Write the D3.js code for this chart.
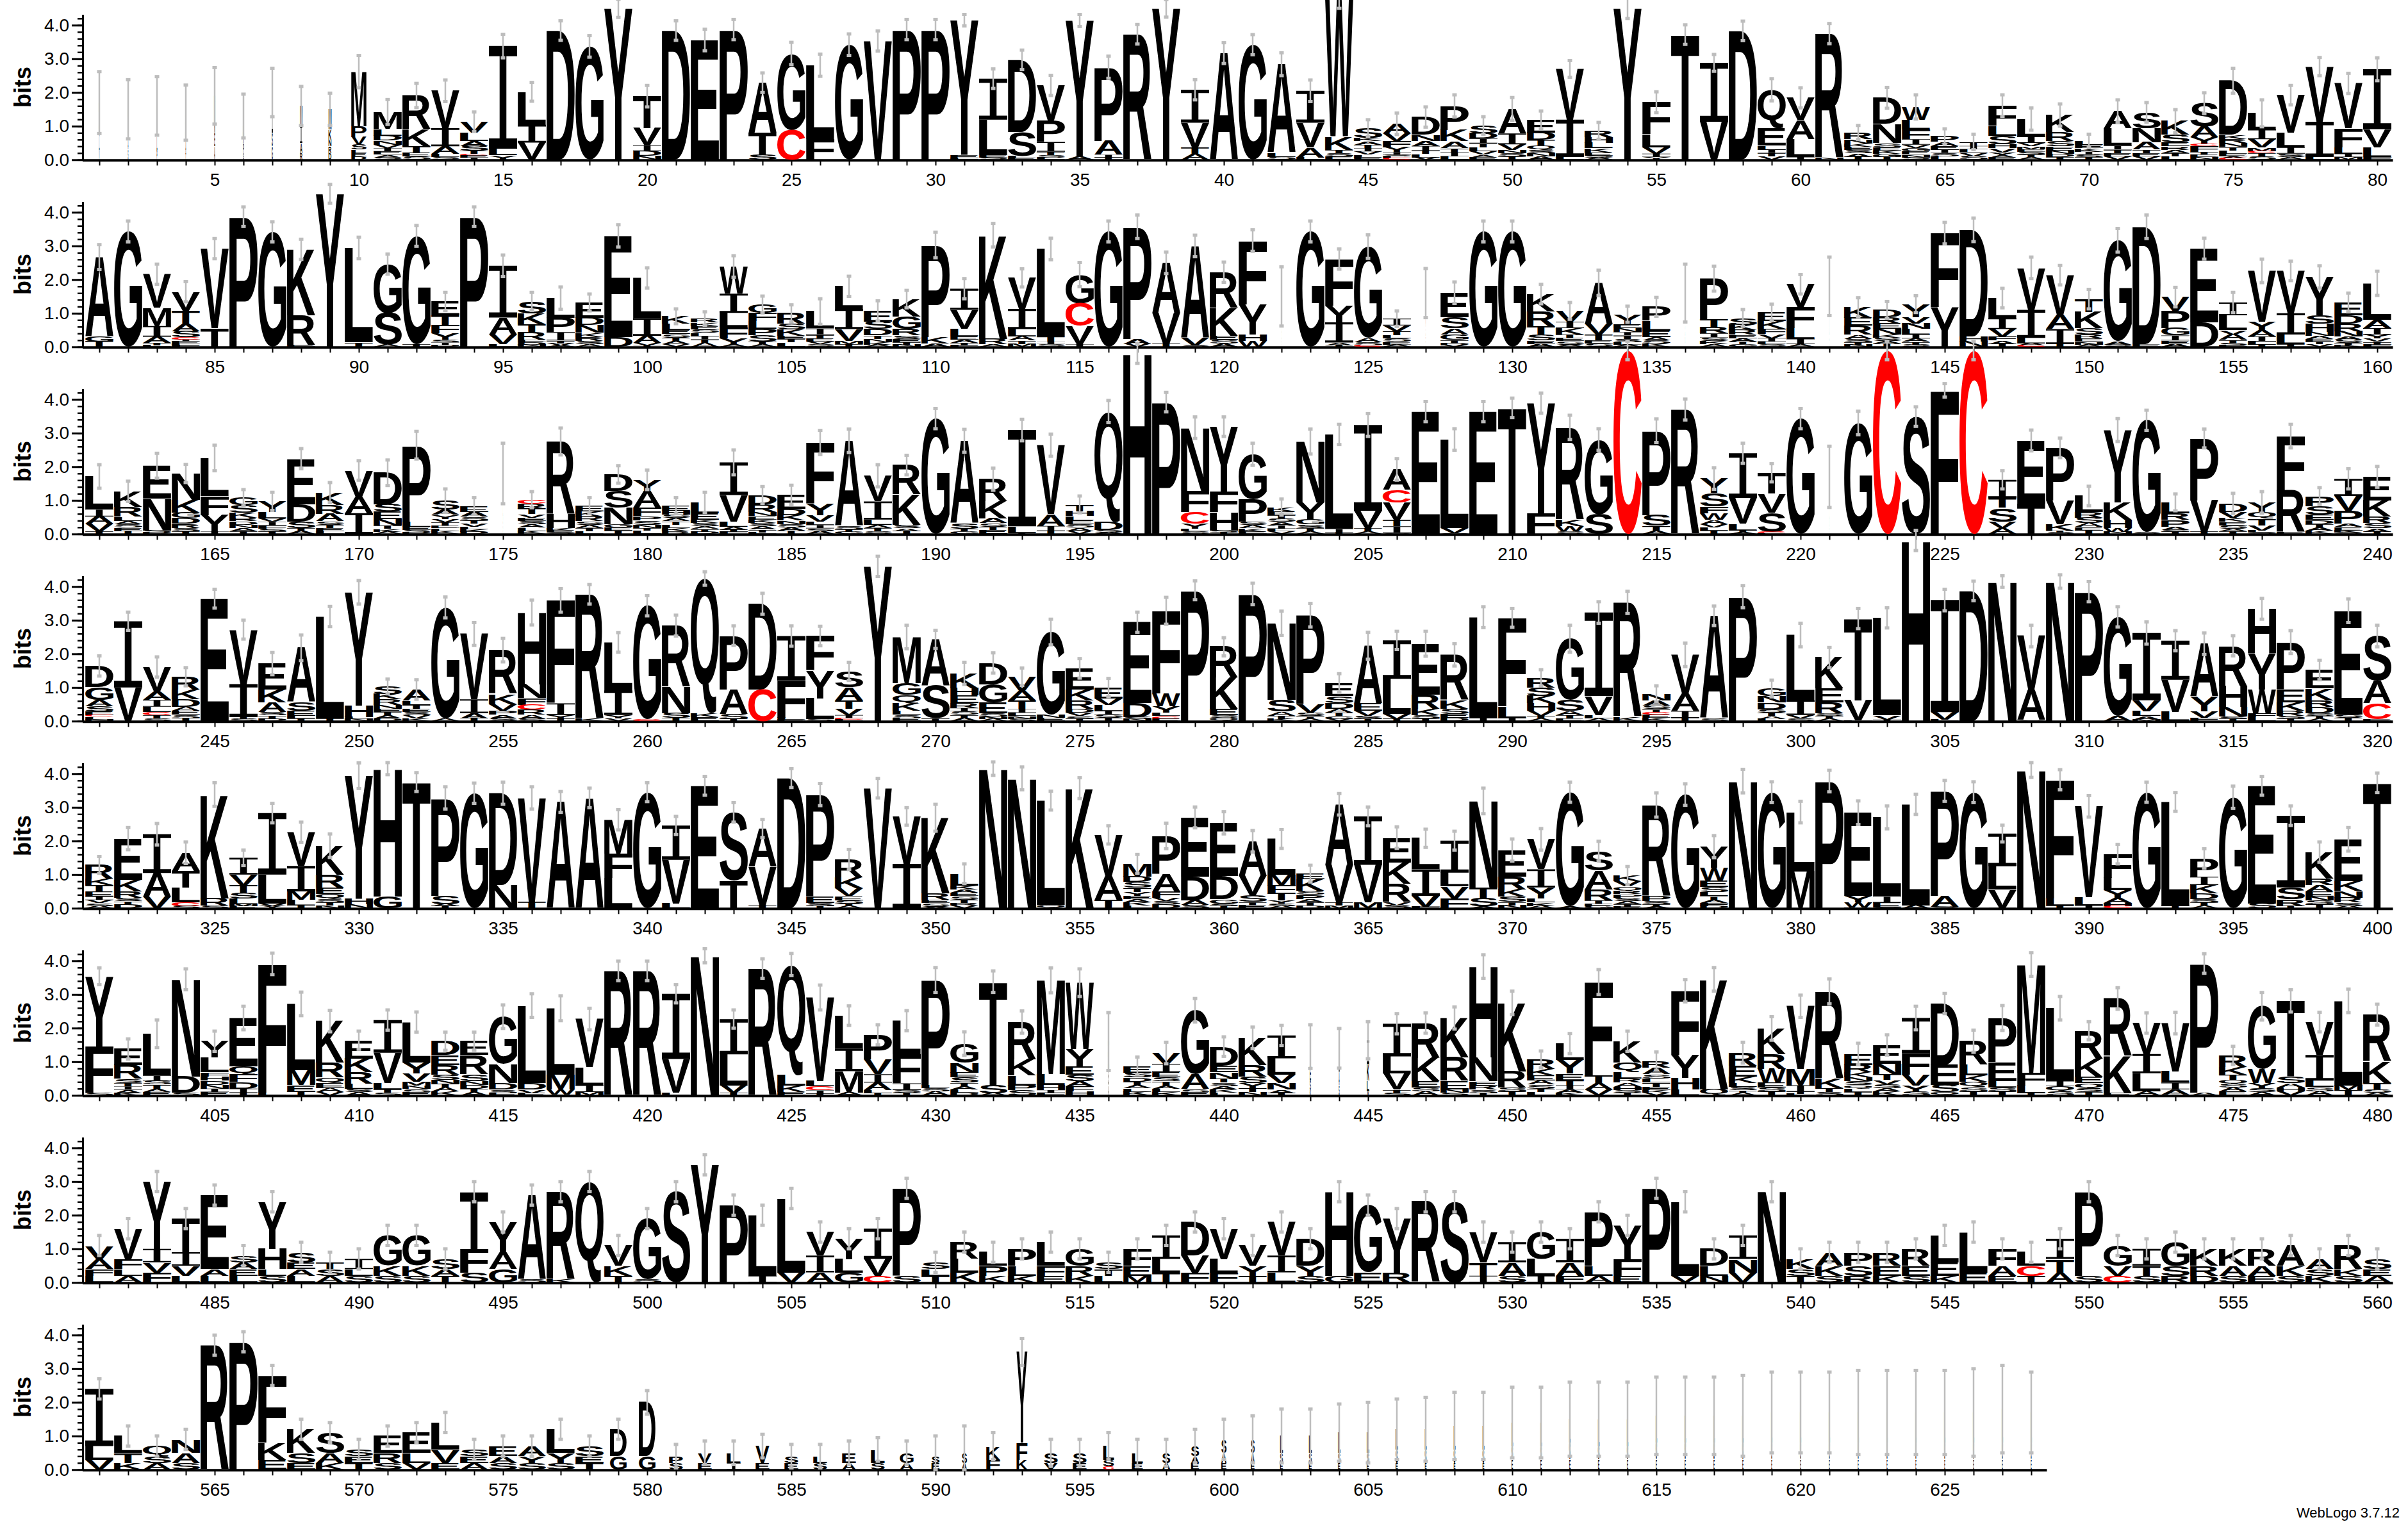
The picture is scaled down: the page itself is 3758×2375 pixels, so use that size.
<!DOCTYPE html>
<html>
<head>
<meta charset="utf-8">
<script src="https://cdn.jsdelivr.net/npm/d3@7"></script>
<style>
  body { margin: 0; background: #fff; }
  text { font-family: "Liberation Sans", Arial, sans-serif; }
</style>
</head>
<body>
<svg id="chart" width="3758" height="2375"></svg>
<script>
// one string per position: "@width" (fraction of column, optional), letters top->bottom with heights in bits, "|" error bar half-length
var row1 = [
 "@.04M1.0L.4V.3|.92","@.04M.9A.3S.3|.88","@.04M.9L.4P.3|.87","@.04S.8A.4T.2|.82","@.05M1.1E.4A.4|.84",
 "@.05A.8P.3S.2|.65","@.06I1.2S.4G.4|.72","@.1M.6I.5A.3R.2|.58","@.12M.6K.3N.2R.2D.2|.48","@.55M1.62P.32V.23S.15L.1E.1D.1|.48",
 "M.5L.2D.15N.12V.1I.1E.1A.08S.07|.37","R1.0K.5T.19E.12S.1|.36","V1.11I.54A.22L.1S.08|.32","V.32L.25A.15S.14T.1C.05E.06I.06|.29","I3.05L.2Y.13|.35",
 "L.98I.53V.51|.28","D3.84|.29","G3.37|.32","Y4.5|.27","T.95V.5I.18D.14N.12|.32",
 "D3.84|.29","E3.56|.32","P3.87|.3","A1.5T.65S.14|.29","G2.27C.89|.33",
 "L2.19F.62|.33","G3.42|.32","V3.53|.3","P3.87|.3","P3.87|.3",
 "Y4.0E.1L.05|.17","I1.22L1.05E.08S.06|.29","D2.15S.71L.06E.05|.29","V1.05P.63I.29T.1S.08L.06|.3","Y4.05A.09|.18",
 "P2.19A.41I.08T.07|.33","R3.73|.29","Y4.5|.26","I.98V.73T.2A.17|.3","A3.17|.31",
 "G3.42|.3","A2.63L.12S.09|.34","I.95V.73A.3L.07|.32","W4.1K.4T.1S.1E.1|.3","S.29K.1A.1T.1I.1V.1L.08E.07|.25",
 "A.29V.22F.19Y.14I.08S.05L.06C.04|.32","D.53N.18A.15I.14T.1L.1V.07|.3","P.72K.33A.2T.13I.12L.1|.33","S.23D.16I.14T.12L.12V.1A.08E.07|.26","A.73I.32V.16N.1S.1T.1|.34",
 "E.39D.21T.16Q.13S.1N.1A.1|.26","V1.51I1.11L.08|.25","R.19H.16L.16K.13E.1S.06A.06|.25","Y4.5|.3","F.95L.39V.19I.1Y.08|.31",
 "T3.72|.29","I1.75V1.13|.25","D3.83|.29","Q1.14E.51L.13I.1T.1V.1|.33","V.65A.57L.54I.08|.3",
 "R3.7N.05|.3","R.19N.13K.1E.1S.1A.1T.09|.21","D.77N.57S.13E.1K.09G.09T.09|.31","W.38L.29F.29I.16V.1G.1E.1N.08S.07|.36","P.16A.12E.11I.1S.1L.1|.23",
 "T.12I.1L.1V.1S.11|.23","F.6L.3S.25H.12V.12Y.1A.06E.06|.32","L.52I.19V.1M.08E.08S.08T.08A.08|.33","K.51R.27S.15E.12N.1D.1T.08|.33","L.12E.1K.1I.08S.08T.08|.2",
 "A.52L.51I.12T.1E.1V.1|.33","S.48N.41A.22T.1E.1V.1|.29","K.41S.22E.12R.1A.1T.1L.1|.34","S.69A.32Y.19C.08F.16T.08E.08N.08|.31","D1.6K.13R.12N.12T.1L.1E.08A.05C.05|.37",
 "L.48I.29V.25M.1C.06T.1S.1|.4","V1.11L.44I.19S.1A.08|.29","V1.64I1.05L.08|.27","V1.33F.57L.19I.1M.08|.3","I1.78V.54L.29F.08|.34"
];
var row2 = [
 "A2.35G.16T.16|.37","G3.43|.31","V1.0M.54I.32A.19T.06L.05|.3","V.57T.38A.22S.19C.06I.06E.06L.05F.05|.3","V2.37T.55|.3",
 "P3.87|.29","G3.42|.3","K1.96R.89E.05|.3","Y4.55|.28","L2.81T.13|.32",
 "G1.46S.94A.06|.3","G3.22T.08|.31","E.41T.29F.25Y.19S.08I.08D.05|.27","P3.87|.29","I1.54A.5V.29L.08|.32",
 "S.35K.32T.25R.22E.08D.07N.06|.27","L.58P.43I.25T.08V.06A.05|.33","E.46D.21N.22K.13R.13S.09A.08|.25","E3.0D.3|.33","L1.19I.53A.22V.06T.05|.3",
 "K.22L.19E.12S.1T.1A.1V.08|.22","R.12K.1E.1S.1L.1I.1T.1A.12|.2","W.81I.57L.44F.32Y.19A.06|.32","G.25F.25L.22P.19S.19T.08A.08|.25","R.32S.16K.19E.1T.1L.13|.25",
 "L.5I.19T.1E.1V.08S.08|.38","L.67I.6V.35M.1T.08|.3","E.32S.22D.19T.1N.1K.08A.06|.3","K.51G.38R.19S.1E.1T.08N.06|.26","P2.73K.2A.1|.38",
 "I.63V.57L.22E.1A.1T.06F.05|.3","K3.08R.16A.08|.35","V.92I.6L.22A.12T.1M.09|.27","L2.6T.15I.08S.08|.32","G.86C.67V.54I.08|.36",
 "G3.43|.31","P3.33A.15V.09|.35","A1.49V.92T.09|.32","A2.73V.22S.05|.32","R1.06K.83E.12S.11A.1|.3",
 "F1.9Y.89H.2W.17|.32","@.02L.8A.4S.3|.88","G3.43|.31","F1.4Y.48I.6A.08T.05|.3","G2.71A.13S.1C.04|.35",
 "I.2V.17T.12L.1S.1E.08A.07|.23","@.02L.9S.4E.3|.73","E.73S.33A.18G.16T.1D.06V.05|.32","G3.43|.31","G3.43|.31",
 "K.51R.44T.25S.18E.1A.09|.29","V.32I.19K.19T.1E.1S.1A.07|.25","A1.22V.32T.16E.1S.1|.38","Y.29E.12N.12I.1T.1S.1L.08A.06|.24","P.41L.29E.19A.1S.1K.1|.28",
 "@.02A.8S.5P.3|.86","P1.22T.22R.19I.12S.1K.1A.08|.37","S.2K.16R.14E.1A.1T.08G.08|.25","E.27K.23F.15V.12I.1L.08S.08|.24","V.67F.63L.32I.16A.08|.29",
 "@.02R.9K.5E.4|.87","K.32E.23R.27A.12S.1T.08N.06|.28","D.22R.19E.16N.16K.1S.1A.07T.1|.25","Y.38V.2N.16L.16I.12A.1T.08S.07|.25","F2.2Y1.18|.32",
 "D3.17H.15N.16|.35","L.6I.32V.22F.12A.1T.09|.29","V1.25I.83L.16A.06C.05|.32","V1.19A.41I.44T.09|.29","T.38K.48S.19R.12E.1N.08A.07|.29",
 "G3.0A.1S.07|.35","D3.49E.08|.35","V.41P.51G.22I.15E.1A.09|.29","E2.19D.73|.31","I.38L.44V.13A.16T.1S.06E.05|.3",
 "V1.51Y.25A.19I.15L.1T.06|.35","V1.26I.63L.29T.08|.29","Y1.14S.25H.24N.12A.1E.08T.07V.08|.33","E.38D.25R.22N.16A.1S.1T.06K.05|.28","L1.08A.25I.19Y.12V.1T.08F.07|.36"
];
var row3 = [
 "L.97I.22A.22V.22T.08|.35","K.46R.29L.13A.1S.1E.1T.09|.3","E.98N.94S.06D.05|.37","N.78K.38G.17D.16R.13S.1T.08|.27","L1.13F.57Y.48I.08|.38",
 "G.22S.23K.15R.1D.1N.1A.1T.08|.24","Y.32L.19V.1I.1F.1S.08T.08|.27","E1.35D.52S.19T.08A.1|.3","K.36R.27A.22S.1T.1E.1L.08|.3","V.79A.48I.62|.29",
 "D.94S.22E.22N.19T.1K.08A.07|.38","P2.27L.15E.1S.07D.05|.41","S.27A.15Y.12V.1T.1E.08L.08K.09|.35","E.17A.15S.1T.1V.1L.08K.07D.06|.25","@.02L.9A.5S.4|.9",
 "C.13R.14T.16V.1E.1S.1A.1L.1K.09|.24","R2.16H.41K.08E.06S.04|.4","E.17K.15R.14S.1A.1T.1L.08|.24","D.48S.51N.48G.1E.1T.1|.26","Y.35A.48F.25P.13S.12N.1T.08L.1|.29",
 "E.14H.12S.1A.1T.1L.1K.1R.08|.24","L.32E.19K.1S.1A.08T.08D.07|.3","I.97V.79L.15A.1T.06F.06|.37","D.27R.23N.13E.1K.1S.1A.1T.08L.05|.25","E.41D.19K.16N.1S.1A.1T.1|.29",
 "F1.81Y.35V.19L.1I.1S.08A.09|.36","A2.53S.1T.08G.06|.35","V.76I.54L.15A.1T.1S.08|.33","R.87K.91S.1A.08T.09|.29","G3.43|.3",
 "A2.46S.15T.08G.08|.34","R.65K.51A.15S.1T.1E.12|.33","I2.86L.2T.03|.32","V2.05A.35I.15T.09|.33","T.2H.15L.12E.12S.1A.1V.09|.25",
 "Q3.27D.25S.07A.05|.33","H5.37|.3","P3.92|.29","N1.87F.63C.35Y.15L.08S.08|.32","Y1.92F.62H.54S.06T.05|.29",
 "G1.33P.67S.1A.1K.1E.07|.33","K.12E.12T.1S.1A.1I.1L.08V.08|.24","N1.81Y.51G.15S.1T.1A.08|.37","L2.81I.1T.05|.3","I2.55V.51T.1A.08|.34",
 "A.6C.38V.51T.2I.2S.03|.32","E3.64|.3","L2.64V.15S.02|.32","E3.64|.3","T3.75|.29",
 "Y3.27F.62|.3","R2.74K.2W.15S.08|.36","G2.22S.59|.32","C5.45|.27","P2.51S.32T.15A.09|.35",
 "R3.7|.31","Y.43S.41F.19W.19A.13V.1L.1T.1|.32","I1.33V.76L.2T.06A.05|.3","T.62V.57S.57C.04L.02|.27","G3.43|.3",
 "@.02G.9A.5S.3|.91","G3.3|.35","C5.45|.27","S3.49|.29","F4.27|.2",
 "C5.45|.27","I.54T.29S.41V.2A.17|.27","E1.87T.91|.31","P1.56V.7K.2T.05S.05|.29","L.48R.16S.16A.12E.1T.11|.29",
 "Y2.15K.51H.25W.12N.06|.34","G3.33S.05|.3","L.32R.2P.2A.1S.06T.06|.25","P1.84V.94T.06|.28","D.25V.17K.13E.1S.1A.08T.08|.3",
 "Y.29Q.2T.2V.15L.06S.04|.32","F1.62R1.24E.05|.35","P.3S.25E.15D.13T.1A.1K.1|.25","I.51V.44P.38A.1E.1K.06S.05|.3","E.7K.48R.2S.15A.1T.07|.31"
];
var row4 = [
 "D.63G.38A.19S.15E.12C.04L.08N.05|.3","I1.97V1.0|.27","V.73A.25I.2L.15C.1T.1S.08|.3","R.38K.29D.22A.12E.12S.1T.09|.27","E3.64|.28",
 "V1.62I.98T.06S.06|.28","E.77K.38A.29S.1T.1D.07|.33","A1.62S.25E.15L.08T.08|.38","L3.03T.08|.3","Y3.37H.34L.06N.06|.35",
 "S.22K.16R.16N.12E.1T.1A.09D.08|.22","A.32L.13T.12E.1S.1V.09K.08|.29","G3.3A.08|.31","V1.94I.41A.15T.09|.34","R1.3K.3V.2P.12A.1S.09|.35",
 "H2.13N.41F.2C.15R.15A.12S.07|.37","F3.06I.35Y.1T.08|.35","R3.7K.07|.29","L1.43I.73Y.1V.08|.29","G3.38C.05|.3",
 "R1.81N.79S.15T.09|.31","Q4.0K.12E.12|.2","P1.6A.73S.15T.06|.29","D2.55C.94|.31","I1.33F1.1L.06E.04|.3",
 "F1.02Y.83L.62S.06|.29","S.48A.38T.25V.19I.1C.04L.04|.27","Y4.6|.3","M1.37G.35Q.25K.22L.12S.1E.09|.35","A1.37S.98T.08|.27",
 "K.44H.22E.22R.15I.1S.1T.1A.09|.33","D.63G.54E.32S.1N.08A.06|.3","V.41A.29T.25I.12L.1N.08S.07|.26","G2.45N.1E.1|.38","E.63K.32R.25D.12V.1S.08T.07|.29",
 "E.32V.19L.19I.1S.1T.1|.27","E2.41D.41S.06N.06|.3","F2.46W.38Y.19L.1C.08E.07|.4","P3.89|.28","R.92K.92E.19S.08Q.1|.27",
 "P3.78|.32","N2.28S.35A.12T.1K.06|.36","P2.65V.25S.1T.08A.07|.35","E.39S.21D.16A.12T.1G.08V.07|.28","A1.71E.22V.15S.09T.07|.4",
 "I1.14L1.05V.15T.06|.27","E1.52R.41K.19S.1T.08|.37","R1.35K.25S.15E.12D.1|.33","L3.0I.09|.31","F2.63L.35I.09|.28",
 "R.29S.25K.22H.22V.15T.08A.08|.24","G1.83S.32A.12T.1E.08|.4","I2.48V.57L.1A.08|.32","R3.4K.13|.33","N.2A.15S.1T.1C.06E.1K.1|.24",
 "V1.16A.51I.2T.1|.35","A3.05S.08|.29","P3.7|.33","G.22N.2D.2S.1T.1A.08L.07|.25","L1.94I.44V.1S.08|.35",
 "K.92E.41R.32S.08T.08A.08|.3","T2.43V.6L.02|.3","L2.9V.12I.05|.3","H5.37|.3","I3.33V.22L.05|.32",
 "D3.87|.29","N4.15|.17","V1.6A.9S.03|.32","N4.15|.2","P3.85|.3",
 "G2.95A.15|.3","I2.0V.32L.15A.1M.05|.33","I1.16V.95L.28|.3","A1.56Y.44V.2F.1|.32","R1.19H.63N.29S.07T.06|.3",
 "H1.32Y1.08W.7F.12L.12|.31","P1.41E.38K.25R.15S.08T.08|.34","E.55K.35R.19D.19S.08T.08A.08|.29","E3.08S.1T.1|.35","S1.33A.67C.48E.05|.32"
];
var row5 = [
 "R.41K.19T.19E.15I.1V.1S.08A.07|.25","E1.22K.35R.19S.1T.1D.11|.33","I1.15A.7V.35|.32","A.55T.48L.44C.12S.06|.32","K3.08R.22S.08|.35",
 "I.5V.32T.22S.18L.16M.06E.06|.23","I1.83L.86V.08Y.06|.29","V1.0I.76M.25L.16T.09|.3","K.86R.38E.19Q.15S.1T.1N.08|.35","Y3.66H.16N.12|.38",
 "H3.8G.35|.18","T3.75|.28","P2.91S.25A.06T.06|.33","G3.42|.3","D2.73N.69|.33",
 "V3.08T.2|.33","A3.16|.31","A3.28|.29","M1.0F.73L.9|.3","G3.45|.28",
 "I1.02V1.3L.14|.27","E3.64|.28","S2.04T.81|.29","A1.14V1.14T.09|.27","D3.87|.28",
 "P3.02E.2S.1T.06|.33","R.54K.32V.22E.13S.1T.08A.06|.3","V3.57|.29","V1.41I1.32|.26","K2.25R.19E.1S.1A.05|.4",
 "L.35K.12A.1E.1S.1T.1R.08V.08|.29","N4.15|.2","N3.86|.34","L3.1Q.1|.28","K3.57|.31",
 "V1.24A.7T.24|.27","M.38D.16S.16T.13Y.12E.1A.1K.09L.08|.28","P1.14A.51F.19V.1S.1D.11|.38","E1.76D.7A.14S.1|.31","E1.59D.68G.13S.08T.06|.33",
 "A1.03V.58S.19T.1E.09|.32","L1.06M.32F.22T.22Y.1S.08A.06|.28","E.17K.34S.12P.12A.1T.1D.08|.25","A1.8V1.11T.1M.08|.32","I1.44V1.11M.18|.28",
 "E.74K.63R.54V.1S.09|.32","L.92I.79V.32F.05|.27","I.95L.41V.35F.3|.28","N2.57T.32S.25A.05|.38","E.79R.38K.22S.15T.1N.09|.33",
 "V.89I.54Y.32L.13K.1A.07|.32","G3.4A.05|.3","S.57A.57R.32T.1E.08G.06|.29","K.17V.15Q.13R.1P.1S.1A.1T.07E.05|.27","R2.7P.15S.1T.07A.05|.36",
 "G3.38|.32","Y.63W.38E.19S.15L.12T.1A.1F.1D.06|.33","N3.78|.35","G3.45|.31","L1.76M1.1|.32",
 "P3.78|.32","E2.48Y.19W.15D.02|.35","L2.34I.19E.15S.02|.34","L3.0A.09|.3","P3.12A.32S.05|.31",
 "G3.45|.31","I.97L.7V.54T.01|.25","N4.11|.22","F3.52L.22T.08|.3","V2.7L.25I.08|.32",
 "F.7L.38Y.22A.15H.1C.06|.29","G3.45|.3","L3.1T.06|.28","P.54I.25K.25D.16S.1T.1A.08|.29","G3.3|.33",
 "E3.5S.14|.28","I2.13S.35R.2T.07|.29","K.79R.19A.19E.15N.12S.12T.11|.3","E1.24K.29N.2R.15S.1A.07|.35","T3.73|.29"
];
var row6 = [
 "Y2.08F1.4S.06|.25","E.48R.41S.12T.1I.1A.1K.07|.3","L1.24I.15S.12T.12A.1E.1|.41","N2.89D.48S.08|.31","Y.48L.44F.13H.12D.12N.12I.1E.1|.3",
 "E1.43Q.25F.22D.2I.12T.08|.35","F3.83L.08|.32","L1.97M.44E.2T.11|.35","K1.24R.44Q.17E.15A.11V.1|.32","E.54K.41R.35L.14S.1A.1|.27",
 "I.97V.9L.19T.1S.08|.3","L1.2Y.32V.25M.12N.1S.1E.09|.3","D.41E.29R.29S.15N.12T.12A.12K.11|.27","E.41R.57S.2N.12D.11T.1A.1|.27","G1.4N.57D.2S.1E.07|.35",
 "L2.3D.2V.1E.07|.35","L1.97M.44W.15T.03|.37","V1.43L.54I.2M.1|.32","R3.7|.29","R3.7|.29",
 "I1.94V1.0L.08|.27","N4.15|.21","I1.05L.92V.22T.08|.27","R3.77|.29","Q3.27L.32K.2E.1|.33",
 "V2.48L.16C.12I.1T.05|.37","L.98I.67M.63A.09|.29","P.73V.44I.25A.22L.1T.06|.3","L1.0F.86I.2S.08T.08|.3","P3.12L.1S.1A.11|.37",
 "G.57N.29E.15S.15T.1A.1L.1D.08|.35","T3.08S.24A.06|.32","R1.11K.48L.29P.15S.15|.33","M2.79L.32H.15I.08F.08|.37","W1.97Y.51E.25S.2A.15F.15H.12|.41",
 "@.04E.8S.5A.3|.86","E.2S.15D.12T.1A.1L.1K.11|.26","V.32I.25E.15S.12T.12A.1L.1K.1|.32","G1.9A.44S.1E.09|.35","D.57E.19N.18T.13S.1A.1K.1L.08|.29",
 "K.81R.35S.19Y.15T.11N.1|.32","I.68L.48V.25N.2A.1T.07|.3","@.06I.6E.4S.3K.15|.65","@.05I.7A.4S.3|.59","@.1I.7K.5L.3V.14|.55",
 "I.97L.51V.48T.1S.07|.3","R1.02K.7E.2S.12A.11|.3","K1.17R.7E.25N.1S.08|.33","H2.7N.7E.13R.13S.1T.07|.35","K2.03R.48S.12T.12|.35",
 "R.29K.19E.15A.12S.12T.1L.1|.25","L.48Y.41E.2T.15I.12A.1K.08|.3","F2.78T.22A.2V.17|.37","K.63Q.29L.19R.12A.12H.1S.08T.08|.3","R.2A.19S.13L.12T.12E.1K.08V.08|.27",
 "F1.92Y.67H.35L.17|.33","K3.27Q.18|.35","R.39E.32K.19L.12S.1T.08A.07|.31","K.76R.44W.41E.15S.12T.11|.35","V1.87M.48I.19T.06L.05|.33",
 "R2.59K.29T.11S.1|.37","E.32R.22K.15N.12S.12Q.1L.1T.1|.32","E.56N.32T.16V.13S.12A.1K.11|.3","I1.05F.63V.32Y.19S.11|.35","D1.82E.6S.22Q.09|.3",
 "R.7L.32K.19Q.15S.13T.12|.33","P1.3E.57L.2S.12T.11|.37","M3.21F.38L.24T.06|.35","L2.16I.16Q.15S.12|.35","R.83K.54E.19Q.15S.11T.1|.27",
 "R1.71K1.11E.06|.32","V.92I.57L.54A.12|.3","V1.43L.34I.2A.15T.03|.32","P3.84A.08|.29","R.35K.22T.15Q.12S.12A.12E.11|.27",
 "G1.87W.41Y.15S.12A.1|.41","T2.25S.19A.13H.12V.12|.33","V.98I.76L.19S.13A.12|.29","L2.51M.15T.15|.35","R1.4K.63T.19S.1A.08|.31"
];
var row7 = [
 "V.4A.3F.2L.2|.3","V.9F.3L.2A.2|.3","Y2.0I.4V.3F.3|.3","T1.0I.4V.3L.2|.3","E2.2A.2L.2|.3",
 "S.2A.2E.2L.2|.3","Y1.4H.6L.2S.2|.3","S.3E.2A.2L.2|.3","T.2S.2A.2|.3","I.3L.2S.2|.3",
 "G.9K.3S.2|.3","G.9K.3S.2|.3","S.3A.2T.2|.3","T1.7F.7S.3|.3","Y.9A.5G.4|.3",
 "A2.5S.1|.3","R2.6K.1|.3","Q3.0|.3","V.6K.3T.2|.3","G1.8S.1|.3",
 "S2.7|.3","Y3.5|.3","P2.3|.3","L1.8I.2|.3","L2.2V.3|.3",
 "V.7I.5A.3|.3","Y.6L.4G.3|.3","I.9V.5C.2|.3","P2.6S.2|.3","S.2L.2T.2|.3",
 "R.5L.4K.3|.3","L.4P.3K.2|.3","P.5L.3K.2|.3","L.7F.3E.2|.3","G.5R.3K.2|.3",
 "S.2T.2L.2|.3","F.5E.3M.2|.3","I.7L.4T.3|.3","D1.0V.5F.3|.3","V.9L.4F.3|.3",
 "V.6Y.3T.2|.3","V1.0I.5L.3|.3","D.8Y.3S.2|.3","H2.5G.2|.3","G2.0E.3|.3",
 "Y1.6R.3|.3","R2.4|.3","S2.4|.3","V.9T.4I.2|.3","I.6A.4S.2|.3",
 "G.8L.5I.2|.3","I.7A.4F.2|.3","P1.6L.3A.2|.3","Y1.0F.5E.2|.3","P2.8|.3",
 "L2.2V.2|.3","D.5L.3N.2|.3","I.7N.4V.3|.3","N2.7|.3","K.3S.2T.2|.3",
 "A.4K.3S.2|.3","P.4S.3R.2|.3","R.4E.3K.2|.3","R.5E.3S.2|.3","L.8E.4K.2|.3",
 "L1.2E.3|.3","F.5A.3E.2|.3","L.4C.3T.2|.3","I.6T.4A.3|.3","P2.5S.2|.3",
 "G.6V.3C.2|.3","I.5T.3S.2|.3","G.7S.3R.2|.3","K.5R.3D.2|.3","K.5A.3S.2|.3",
 "R.5A.3E.2|.3","A.6K.3S.2|.3","A.3S.2K.2|.3","R.7K.2S.2|.3","S.3E.2A.2|.3"
];
var row8 = [
 "I1.7L.4V.3|.3","L.5T.3K.2|.3","Q.3S.2A.2|.3","N.4A.3S.2|.3","R3.7|.3",
 "P3.8|.3","F2.0K.5E.3|.3","K.7S.3E.2|.3","S.6A.3K.2|.3","S.2E.2T.2|.3",
 "E.5R.3S.2|.3","E.6L.3V.2|.3","L.8V.4E.2|.3","S.2E.2A.2|.3","E.3A.2S.2|.3",
 "A.3Y.2S.2|.3","L.7Y.3S.2|.3","S.3E.2T.2|.3","@.6D.8G.4|.3","@.6D1.6G.4|.35",
 "@.5P.2S.2|.35","@.5V.3E.2|.35","@.5L.3I.2|.35","@.5V.5E.2|.35","@.5S.2E.2|.35",
 "@.5L.2S.2|.35","@.5E.3A.2|.35","@.5L.4S.2|.35","@.5G.3A.2|.35","@.3S.2E.2|.6",
 "@.2S.3A.2|.8","@.5K.4F.3|.4","@.4Y2.7F.5K.3|.4","@.5S.3V.2|.4","@.5S.3E.2|.4",
 "@.4L.4S.2C.1|.4","@.4L.3E.2|.4","@.3S.3A.2|.4","@.3S.3A.2E.2|.5","@.2S.4A.3E.2|.6",
 "@.15S.4A.3E.2|.7","@.12L.5S.3E.2|.8","@.12L.5S.3E.2|.8","@.1L.6S.3E.2|.85","@.1L.6S.3E.2|.9",
 "@.1L.6S.4E.2|.9","@.08L.6S.4E.2|.95","@.08L.7S.4E.2|1.0","@.08L.7S.4E.2|1.0","@.07L.7S.4E.3|1.05",
 "@.07L.7S.4E.3|1.05","@.07L.7S.5E.3|1.1","@.07L.8S.4E.3|1.1","@.06L.8S.4E.3|1.1","@.06L.8S.5E.3|1.15",
 "@.06L.8S.5E.3|1.15","@.06L.8S.5E.3|1.15","@.06L.8S.5E.3|1.2","@.05L.9S.5E.3|1.2","@.05L.9S.5E.3|1.2",
 "@.05L.9S.5E.3|1.2","@.05L.9S.5E.3|1.25","@.05L.9S.5E.3|1.25","@.05L.9S.5E.3|1.25","@.05L.9S.5E.3|1.25",
 "@.05L.9S.5E.3|1.3","@.05L1.0S.5E.3|1.3","@.05L.9S.5E.3|1.2"
];

var rows = [row1, row2, row3, row4, row5, row6, row7, row8];
var rowStarts = [1, 81, 161, 241, 321, 401, 481, 561];
var yMajorTicks = [0, 1, 2, 3, 4];
var yMinorTicks = d3.range(0, 4.3, 0.2);
var perRow = 80;

var colStep = 45, plotLeft = 132.5, axisX = 129;
var base0 = 249.3, rowGap = 292, bitPx = 52.5, yMax = 4.32;

var svg = d3.select("#chart");
svg.append("rect").attr("width", 3758).attr("height", 2375).attr("fill", "#fff");

// glyph ink boxes, measured once
var FONT_PX = 200;
var ctx = document.createElement("canvas").getContext("2d");
ctx.font = "bold " + FONT_PX + "px 'Liberation Sans', Arial, sans-serif";
var boxes = {};
function box(ch) {
  if (!boxes[ch]) {
    var m = ctx.measureText(ch);
    boxes[ch] = { l: -m.actualBoundingBoxLeft, r: m.actualBoundingBoxRight,
                  t: -m.actualBoundingBoxAscent, b: m.actualBoundingBoxDescent };
  }
  return boxes[ch];
}

function parse(s) {
  var w = 1, e = 0.3, body = s;
  var m = body.match(/^@([\d.]+)/);
  if (m) { w = +m[1]; body = body.slice(m[0].length); }
  var k = body.indexOf("|");
  if (k >= 0) { e = +body.slice(k + 1); body = body.slice(0, k); }
  var letters = [];
  body.replace(/([A-Z])([\d.]+)/g, function(_, c, h) { letters.push({ c: c, h: +h }); });
  return { w: w, e: e, letters: letters };
}

rows.forEach(function(row, r) {
  var base = base0 + r * rowGap;
  var start = rowStarts[r];
  var x = d3.scaleLinear().domain([start - 0.5, start + perRow - 0.5])
            .range([plotLeft, plotLeft + perRow * colStep]);
  var y = d3.scaleLinear().domain([0, yMax]).range([base, base - yMax * bitPx]);
  var g = svg.append("g").attr("class", "row");

  // y axis: minor then major ticks
  g.append("g").attr("transform", "translate(" + axisX + ",0)")
    .call(d3.axisLeft(y).tickValues(yMinorTicks).tickSize(8).tickSizeOuter(0).tickFormat(""))
    .call(function(a) { a.selectAll("line").attr("stroke-width", 2.5); a.select(".domain").attr("stroke-width", 3); });
  g.append("g").attr("transform", "translate(" + axisX + ",0)")
    .call(d3.axisLeft(y).tickValues(yMajorTicks).tickSize(17).tickPadding(4).tickSizeOuter(0).tickFormat(d3.format(".1f")))
    .call(function(a) {
      a.select(".domain").remove();
      a.selectAll("line").attr("stroke-width", 3);
      a.selectAll("text").attr("font-size", 28).attr("font-family", "'Liberation Sans', Arial, sans-serif");
    });
  g.append("text").attr("transform", "translate(48," + (base - yMax * bitPx / 2) + ") rotate(-90)")
    .attr("text-anchor", "middle").attr("font-size", 36).attr("font-weight", "bold").text("bits");

  // x axis
  var positions = d3.range(start, start + row.length);
  var xa = g.append("g").attr("transform", "translate(0," + base + ")")
    .call(d3.axisBottom(x).tickValues(positions).tickSize(9).tickPadding(12).tickSizeOuter(0)
          .tickFormat(function(d) { return d % 5 === 0 ? d : ""; }));
  xa.select(".domain").remove();
  xa.selectAll("line").attr("stroke-width", 2);
  xa.selectAll("text").filter(function(d) { return d % 5 !== 0; }).remove();
  xa.selectAll("text").attr("font-size", 28).attr("font-family", "'Liberation Sans', Arial, sans-serif");
  g.append("line").attr("x1", axisX).attr("x2", x(start + row.length - 0.5) + 2)
    .attr("y1", base + 1).attr("y2", base + 1).attr("stroke", "#000").attr("stroke-width", 4);

  // stacks
  var stacks = row.map(function(s, i) { var p = parse(s); p.pos = start + i; return p; });
  stacks.forEach(function(st) {
    var cw = colStep * st.w;
    var xl = x(st.pos) - cw / 2 + 0.5, wdt = cw - 1;
    var total = d3.sum(st.letters, function(l) { return l.h; });
    var cur = total;
    st.letters.forEach(function(l) {
      var yt = y(cur), yb = y(cur - l.h);
      cur -= l.h;
      var hh = yb - yt;
      if (hh <= 0.05) return;
      var col = l.c === "C" ? "#ff0000" : "#000";
      if (l.c === "I") {
        var bar = hh * 0.1, stem = wdt * 0.24;
        g.append("path").attr("fill", col)
          .attr("d", "M" + xl + "," + yt + "h" + wdt + "v" + bar + "h" + (-(wdt - stem) / 2) +
                "v" + (hh - 2 * bar) + "h" + ((wdt - stem) / 2) + "v" + bar + "h" + (-wdt) +
                "v" + (-bar) + "h" + ((wdt - stem) / 2) + "v" + (-(hh - 2 * bar)) + "h" + (-(wdt - stem) / 2) + "z");
        return;
      }
      var b = box(l.c);
      var sx = wdt / (b.r - b.l), sy = hh / (b.b - b.t);
      g.append("text").attr("font-size", FONT_PX).attr("font-weight", "bold").attr("fill", col)
        .attr("transform", "translate(" + xl + "," + yt + ") scale(" + sx + "," + sy + ") translate(" + (-b.l) + "," + (-b.t) + ")")
        .text(l.c);
    });
    // error bar
    var y1 = y(total + st.e), y2 = y(Math.max(0, total - st.e)), xc = x(st.pos);
    var eb = g.append("g").attr("fill", "#bdbdbd").attr("stroke", "#bdbdbd");
    eb.append("line").attr("x1", xc).attr("x2", xc).attr("y1", y1).attr("y2", y2).attr("stroke-width", 2.5);
    eb.append("rect").attr("x", xc - 3.5).attr("y", y1 - 2.5).attr("width", 7).attr("height", 5).attr("stroke", "none");
    eb.append("rect").attr("x", xc - 3.5).attr("y", y2 - 2.5).attr("width", 7).attr("height", 5).attr("stroke", "none");
  });
});

svg.append("text").attr("x", 3745).attr("y", 2368).attr("text-anchor", "end")
  .attr("font-size", 22).text("WebLogo 3.7.12");
</script>
</body>
</html>
